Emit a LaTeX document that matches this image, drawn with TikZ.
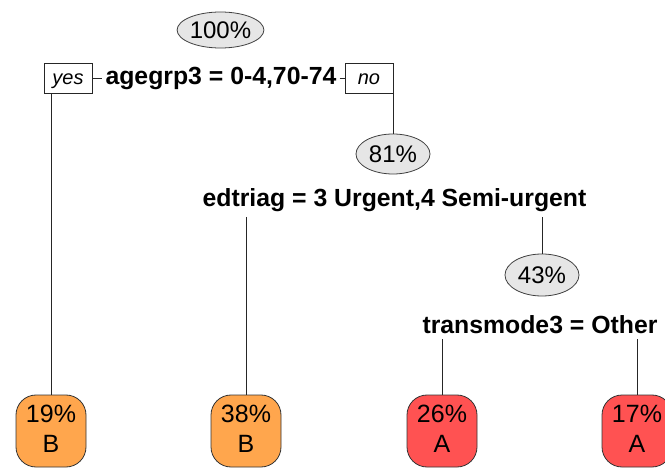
\documentclass[tikz,border=0pt]{standalone}
\usepackage{fontspec}
\setmainfont{Liberation Sans}
\usetikzlibrary{shapes.geometric}
\definecolor{ellfill}{RGB}{230,230,230}
\definecolor{orangeleaf}{RGB}{255,166,77}
\definecolor{redleaf}{RGB}{255,82,82}
\newcommand{\leaftext}[2]{\raisebox{-4pt}{\begin{tabular}{@{}c@{}}#1\\#2\end{tabular}}}
\begin{document}
\begin{tikzpicture}[x=1pt,y=-1pt,
  pct/.style={ellipse, draw=black!75, fill=ellfill, line width=0.8pt, inner sep=0pt,
    font=\fontsize{24}{24}\selectfont},
  split/.style={inner xsep=3pt, inner ysep=5pt, font=\bfseries\fontsize{24.8}{25}\selectfont},
  yn/.style={draw=black!85, rectangle, fill=white, line width=0.8pt, minimum width=48pt,
    minimum height=30pt, inner sep=0pt, text height=14pt, text depth=0pt,
    font=\itshape\fontsize{20}{20}\selectfont},
  leaf/.style={rectangle, rounded corners=20pt, draw=black!80, line width=0.8pt,
    minimum width=70pt, minimum height=72pt, inner sep=0pt,
    font=\fontsize{25}{30}\selectfont},
  conn/.style={draw=black!85, line width=0.9pt}]
\useasboundingbox (0,0) rectangle (665,468);

% percentage ellipses
\node[pct, minimum width=84pt, minimum height=36pt] (e100) at (220.5,30) {100\%};
\node[pct, minimum width=74pt, minimum height=40pt] (e81) at (393,154) {81\%};
\node[pct, minimum width=74pt, minimum height=42pt] (e43) at (542,275) {43\%};

% split labels
\node[split] (agegrp) at (221,78) {agegrp3 = 0-4,70-74};
\node[split] (edtriag) at (394.5,200) {edtriag = 3 Urgent,4 Semi-urgent};
\node[split] (trans) at (540,325) {transmode3 = Other};

% yes / no boxes
\node[yn] (yes) at (68,78) {yes};
\node[yn] (no) at (369,78) {no};

% leaves
\node[leaf, fill=orangeleaf] (leaf1) at (51,431) {\leaftext{19\%}{B}};
\node[leaf, fill=orangeleaf] (leaf2) at (246,431) {\leaftext{38\%}{B}};
\node[leaf, fill=redleaf] (leaf3) at (442,431) {\leaftext{26\%}{A}};
\node[leaf, fill=redleaf] (leaf4) at (637,431) {\leaftext{17\%}{A}};

% connectors
\draw[conn] (yes.east) -- (agegrp.west);
\draw[conn] (agegrp.east) -- (no.west);
\draw[conn] (yes.south -| leaf1.north) -- (leaf1.north);
\draw[conn] (no.east) -| (e81.north);
\draw[conn] (edtriag.south -| leaf2.north) -- (leaf2.north);
\draw[conn] (edtriag.south -| e43.north) -- (e43.north);
\draw[conn] (trans.south -| leaf3.north) -- (leaf3.north);
\draw[conn] (trans.south -| leaf4.north) -- (leaf4.north);
\end{tikzpicture}
\end{document}
